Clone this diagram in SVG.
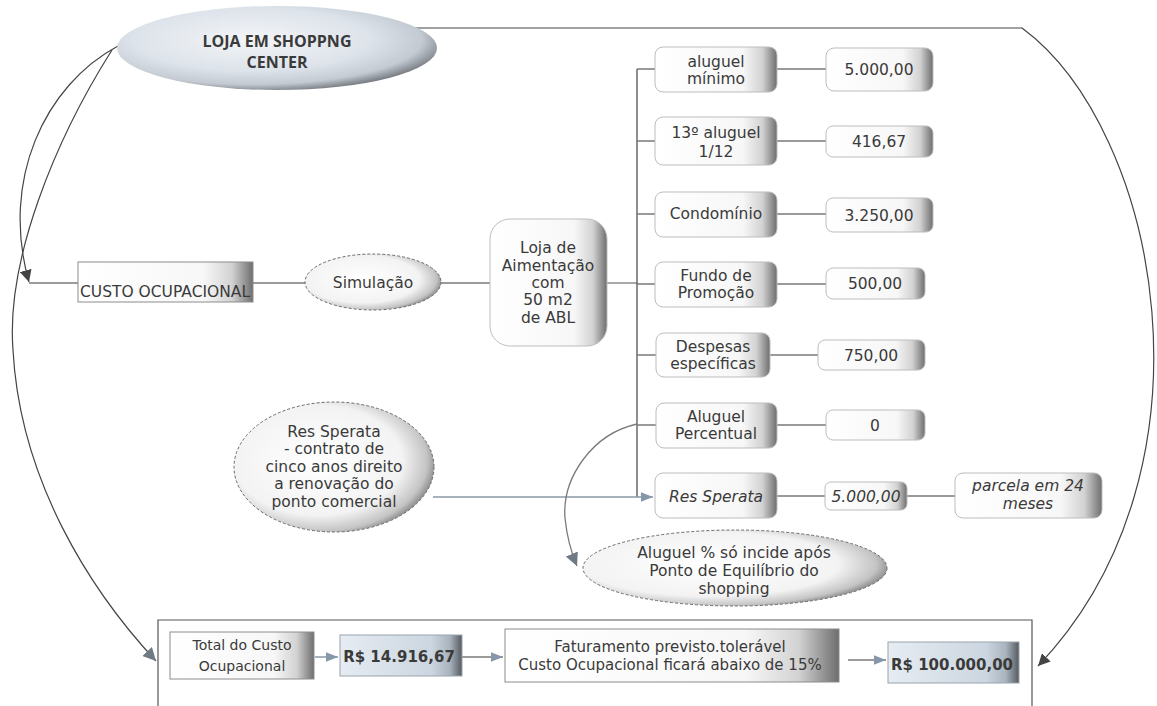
<svg xmlns="http://www.w3.org/2000/svg" width="1157" height="706" viewBox="0 0 1157 706">
<defs>
<linearGradient id="gBox" x1="0" y1="0" x2="1" y2="0">
<stop offset="0" stop-color="#ffffff"/><stop offset="0.72" stop-color="#f7f7f7"/><stop offset="0.88" stop-color="#d2d2d2"/><stop offset="1" stop-color="#6e6e6e"/>
</linearGradient>
<linearGradient id="gBlue" x1="0" y1="0" x2="1" y2="0">
<stop offset="0" stop-color="#e6ecf2"/><stop offset="0.75" stop-color="#ccd6e0"/><stop offset="0.9" stop-color="#a9b3bd"/><stop offset="1" stop-color="#555a60"/>
</linearGradient>
<radialGradient id="gEll" cx="0.42" cy="0.45" r="0.62">
<stop offset="0" stop-color="#ffffff"/><stop offset="0.68" stop-color="#f3f3f3"/><stop offset="0.88" stop-color="#c4c4c4"/><stop offset="1" stop-color="#6f6f6f"/>
</radialGradient>
<radialGradient id="gTop" cx="0.42" cy="0.4" r="0.62">
<stop offset="0" stop-color="#f3f5f8"/><stop offset="0.6" stop-color="#dde3ea"/><stop offset="0.86" stop-color="#c3cad2"/><stop offset="1" stop-color="#7c8187"/>
</radialGradient>
<marker id="aDark" viewBox="0 0 10 10" refX="10" refY="5" markerWidth="12" markerHeight="12" markerUnits="userSpaceOnUse" orient="auto">
<path d="M0,0 L10,5 L0,10 z" fill="#444"/>
</marker>
<marker id="aBlue" viewBox="0 0 10 10" refX="10" refY="5" markerWidth="14" markerHeight="12" markerUnits="userSpaceOnUse" orient="auto">
<path d="M0,1 L10,5 L0,9 z" fill="#8597a8"/>
</marker>
<marker id="aGray" viewBox="0 0 10 10" refX="10" refY="5" markerWidth="13" markerHeight="13" markerUnits="userSpaceOnUse" orient="auto">
<path d="M0,0 L10,5 L0,10 z" fill="#6f7a84"/>
</marker>
<style>
text{font-family:"DejaVu Sans",Verdana,sans-serif;fill:#3a3a3a;font-size:15.5px;text-anchor:middle}
.it{font-style:italic}
.b{font-weight:bold}
.box{fill:url(#gBox);stroke:#bdbdbd;stroke-width:1}
.sq{fill:url(#gBox);stroke:#8c8c8c;stroke-width:1}
.blue{fill:url(#gBlue);stroke:#9aa4ae;stroke-width:1}
.ell{fill:url(#gEll);stroke:#6a6a6a;stroke-width:1;stroke-dasharray:3 2}
.ln{fill:none;stroke:#7a7a7a;stroke-width:1.3}
.dk{fill:none;stroke:#444;stroke-width:1.2}
.bl{fill:none;stroke:#8a98a6;stroke-width:1.5}
</style>
</defs>

<g id="connectors">
<path class="dk" d="M415,28 L1022,28 C1160,130 1225,470 1038,666" marker-end="url(#aDark)"/>
<path class="dk" d="M118,46 C45,85 0,180 29,282" marker-end="url(#aDark)"/>
<path class="ln" d="M29,283 L78,283"/>
<path class="dk" d="M112,50 C55,140 6,260 13,350 C20,480 90,590 156,661" marker-end="url(#aGray)"/>
<path class="ln" d="M253,283 L305,283"/>
<path class="ln" d="M441,283 L490,283"/>
<path class="ln" d="M607,283 L637,283"/>
<path class="dk" d="M637,69 L637,497"/>
<path class="ln" d="M637,69 L655,69 M637,141 L655,141 M637,214 L655,214 M637,284 L655,284 M637,355 L656,355 M637,425 L656,425"/>
<path class="ln" d="M777,69 L826,69 M777,141 L826,141 M777,214 L826,214 M777,284 L826,284 M770,355 L818,355 M777,425 L826,425 M777,496 L825,496 M907,496 L955,496"/>
<path class="bl" d="M433,497 L653,497" marker-end="url(#aBlue)"/>
<path class="ln" d="M637,424 C592,434 562,478 565,518 C567,538 571,552 577,566" marker-end="url(#aGray)"/>
<path class="bl" d="M315,657 L338,657" marker-end="url(#aBlue)"/>
<path class="ln" d="M462,657 L503,657" marker-end="url(#aBlue)"/>
<path class="ln" d="M848,660 L886,660" marker-end="url(#aBlue)"/>
</g>

<g id="n-loja-shopping">
<ellipse cx="277" cy="48" rx="160" ry="42" fill="url(#gTop)"/>
<text x="277" y="47" class="b" style="font-family:'Open Sans',sans-serif;font-size:16px">LOJA EM SHOPPNG</text>
<text x="277" y="68" class="b" style="font-family:'Open Sans',sans-serif;font-size:16px">CENTER</text>
</g>

<g id="n-custo">
<rect class="sq" x="78" y="262" width="175" height="40"/>
<text x="80" y="297" style="text-anchor:start">CUSTO OCUPACIONAL</text>
</g>

<g id="n-simulacao">
<ellipse class="ell" cx="373" cy="282" rx="68" ry="28"/>
<text x="373" y="288">Simulação</text>
</g>

<g id="n-loja">
<rect class="box" x="490" y="219" width="117" height="127" rx="20"/>
<text x="548" y="253">Loja de</text>
<text x="548" y="271">Aimentação</text>
<text x="548" y="288">com</text>
<text x="548" y="305">50 m2</text>
<text x="548" y="323">de ABL</text>
</g>

<g id="n-aluguel-minimo">
<rect class="box" x="655" y="47" width="122" height="45" rx="8"/>
<text x="716" y="67">aluguel</text>
<text x="716" y="84">mínimo</text>
</g>
<g id="n-v1">
<rect class="box" x="826" y="48" width="107" height="43" rx="8"/>
<text x="879" y="75">5.000,00</text>
</g>

<g id="n-13">
<rect class="box" x="655" y="117" width="122" height="48" rx="8"/>
<text x="716" y="138">13º aluguel</text>
<text x="716" y="157">1/12</text>
</g>
<g id="n-v2">
<rect class="box" x="826" y="126" width="107" height="31" rx="7"/>
<text x="879" y="147">416,67</text>
</g>

<g id="n-condominio">
<rect class="box" x="655" y="192" width="122" height="45" rx="8"/>
<text x="716" y="219">Condomínio</text>
</g>
<g id="n-v3">
<rect class="box" x="826" y="198" width="107" height="34" rx="7"/>
<text x="879" y="221">3.250,00</text>
</g>

<g id="n-fundo">
<rect class="box" x="655" y="262" width="122" height="45" rx="8"/>
<text x="716" y="281">Fundo de</text>
<text x="716" y="298">Promoção</text>
</g>
<g id="n-v4">
<rect class="box" x="826" y="268" width="99" height="31" rx="7"/>
<text x="875" y="289">500,00</text>
</g>

<g id="n-despesas">
<rect class="box" x="656" y="333" width="114" height="44" rx="8"/>
<text x="713" y="352">Despesas</text>
<text x="713" y="369">específicas</text>
</g>
<g id="n-v5">
<rect class="box" x="818" y="340" width="107" height="30" rx="7"/>
<text x="871" y="361">750,00</text>
</g>

<g id="n-aluguel-percentual">
<rect class="box" x="656" y="403" width="121" height="45" rx="8"/>
<text x="716" y="422">Aluguel</text>
<text x="716" y="439">Percentual</text>
</g>
<g id="n-v6">
<rect class="box" x="826" y="410" width="99" height="30" rx="7"/>
<text x="875" y="431">0</text>
</g>

<g id="n-res-sperata">
<rect class="box" x="655" y="473" width="122" height="45" rx="8"/>
<text x="716" y="502" class="it">Res Sperata</text>
</g>
<g id="n-v7">
<rect class="box" x="825" y="482" width="82" height="28" rx="6"/>
<text x="866" y="502" class="it">5.000,00</text>
</g>
<g id="n-parcela">
<rect class="box" x="955" y="473" width="147" height="45" rx="8"/>
<text x="1028" y="491" class="it">parcela em 24</text>
<text x="1028" y="509" class="it">meses</text>
</g>

<g id="n-res-sperata-note">
<ellipse class="ell" cx="334" cy="467" rx="100" ry="65"/>
<text x="334" y="437">Res Sperata</text>
<text x="334" y="454">- contrato de</text>
<text x="334" y="472">cinco anos direito</text>
<text x="334" y="489">a renovação do</text>
<text x="334" y="507">ponto comercial</text>
</g>

<g id="n-aluguel-note">
<ellipse class="ell" cx="735" cy="568" rx="152" ry="38"/>
<text x="734" y="558">Aluguel % só incide após</text>
<text x="734" y="576">Ponto de Equilíbrio do</text>
<text x="734" y="594">shopping</text>
</g>

<g id="n-bottom-frame">
<path d="M158,706 L158,620 L1032,620 L1032,706" fill="none" stroke="#555" stroke-width="1.2"/>
</g>

<g id="n-total">
<rect class="sq" x="170" y="632" width="144" height="47"/>
<text x="242" y="650" style="font-size:14px">Total do Custo</text>
<text x="242" y="671" style="font-size:14px">Ocupacional</text>
</g>
<g id="n-r1">
<rect class="blue" x="340" y="635" width="122" height="41"/>
<text x="399" y="662" class="b" style="font-size:15px">R$ 14.916,67</text>
</g>
<g id="n-faturamento">
<rect class="sq" x="505" y="629" width="334" height="53"/>
<text x="670" y="652" style="font-size:15px">Faturamento previsto.tolerável</text>
<text x="670" y="670" style="font-size:15px">Custo Ocupacional ficará abaixo de 15%</text>
</g>
<g id="n-r2">
<rect class="blue" x="888" y="642" width="131" height="41"/>
<text x="952" y="670" class="b" style="font-size:15px">R$ 100.000,00</text>
</g>
</svg>
